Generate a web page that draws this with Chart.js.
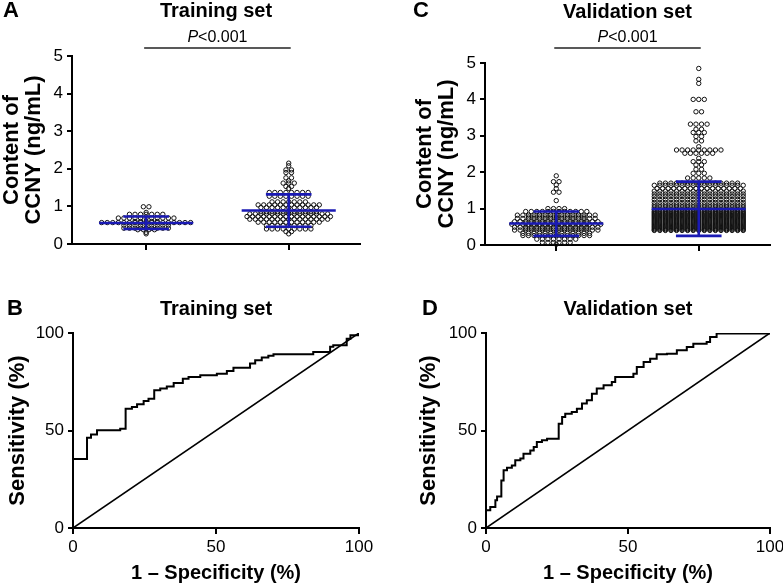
<!DOCTYPE html>
<html>
<head>
<meta charset="utf-8">
<script src="https://cdn.jsdelivr.net/npm/chart.js@4/dist/chart.umd.min.js"></script>
<style>
  html, body { margin: 0; padding: 0; background: #fff; }
  body { position: relative; width: 783px; height: 584px; overflow: hidden; }
  canvas { position: absolute; }
</style>
</head>
<body>
<canvas id="panelA" width="390" height="280" style="left:0;top:0"></canvas>
<canvas id="panelC" width="410" height="280" style="left:390px;top:0"></canvas>
<canvas id="panelB" width="390" height="304" style="left:0;top:280px"></canvas>
<canvas id="panelD" width="410" height="304" style="left:390px;top:280px"></canvas>
<script>
// Dot plot data: value levels (ng/mL) and how many samples sit on each level
const trainLowLevels = [0.99, 0.84, 0.79, 0.69, 0.60, 0.57, 0.50, 0.42, 0.38, 0.31, 0.27];
const trainLowCounts = [2, 1, 7, 11, 5, 17, 9, 9, 4, 1, 1];
const trainHighLevels = [2.15, 2.08, 1.97, 1.90, 1.76, 1.68, 1.62, 1.53, 1.48, 1.37, 1.27, 1.12, 1.04, 0.97, 0.86, 0.80, 0.73, 0.66, 0.58, 0.49, 0.40, 0.33, 0.27];
const trainHighCounts = [1, 1, 2, 2, 2, 1, 3, 2, 1, 8, 8, 7, 12, 11, 11, 15, 16, 15, 12, 9, 9, 2, 1];
const validLowLevels = [1.90, 1.74, 1.65, 1.55, 1.45, 1.22, 1.00, 0.92, 0.82, 0.77, 0.73, 0.64, 0.60, 0.57, 0.49, 0.45, 0.41, 0.32, 0.26, 0.16, 0.07, 0.02];
const validLowCounts = [1, 2, 1, 1, 2, 1, 4, 12, 15, 11, 15, 16, 12, 17, 16, 12, 16, 13, 13, 8, 6, 1];
const validHighLevels = [4.85, 4.55, 4.44, 4.00, 3.66, 3.32, 3.18, 3.09, 2.98, 2.86, 2.70, 2.61, 2.52, 2.38, 2.29, 2.20, 2.08, 1.97, 1.84,
  1.70, 1.64, 1.55, 1.48, 1.40, 1.33, 1.25, 1.17, 1.10, 1.04, 0.98, 0.93, 0.90, 0.87, 0.84, 0.81, 0.78, 0.75, 0.72, 0.69,
  0.66, 0.63, 0.60, 0.57, 0.54, 0.51, 0.48, 0.45, 0.42, 0.40];
const validHighCounts = [1, 1, 1, 3, 2, 4, 2, 3, 2, 2, 1, 9, 6, 1, 3, 2, 2, 3, 5,
  15, 17, 16, 17, 17, 17, 17, 17, 17, 17, 17, 17, 17, 17, 17, 17, 17, 17, 17, 17,
  17, 17, 17, 17, 17, 17, 17, 17, 17, 17];

// Mean and SD bars: [low group, high group]
const trainMean = [0.56, 0.89];
const trainSdLow = [0.40, 0.46];
const trainSdHigh = [0.73, 1.32];
const validMean = [0.59, 0.99];
const validSdLow = [0.25, 0.25];
const validSdHigh = [0.92, 1.74];

// ROC curves (1 - specificity vs sensitivity, %)
const trainFpr = [0, 0, 4.9, 6.3, 8.4, 16.5, 18.4, 20.6, 22.4, 24.7, 26.4, 28.4, 30.5, 32.8, 35.2, 38.4, 40.4, 44.5, 50.3, 53.8,
  56.1, 61.9, 63.7, 66.0, 68.3, 70.1, 84.0, 89.9, 91.0, 95.7, 97.0, 100];
const trainTpr = [0, 35.4, 46.3, 48.0, 50.1, 50.9, 61.2, 62.1, 63.4, 65.1, 66.3, 70.6, 71.5, 72.6, 74.4, 76.6, 77.4, 78.3, 79.1, 80.5,
  82.2, 84.3, 86.0, 87.4, 88.3, 89.1, 90.3, 93.0, 93.7, 97.0, 98.8, 100];
const validFpr = [0, 0, 1.5, 3.3, 3.9, 5.4, 6.2, 7.4, 9.1, 10.3, 12.1, 13.2, 15.6, 16.8, 17.9, 19.7, 21.5, 25.6, 26.8, 27.9,
  30.2, 32.0, 33.8, 35.5, 37.3, 39.0, 41.4, 44.3, 45.5, 51.9, 53.1, 55.5, 57.8, 60.1, 63.7, 67.2, 70.7, 73.0, 77.7, 78.9, 81.2, 100];
const validTpr = [0, 9.1, 10.8, 14.2, 16.2, 24.4, 29.6, 30.9, 32.1, 34.7, 35.6, 38.1, 39.8, 41.5, 44.1, 45.0, 45.8, 53.5, 56.9, 58.6,
  59.5, 61.2, 63.8, 65.5, 68.9, 71.5, 73.2, 74.9, 77.4, 79.1, 82.6, 85.1, 86.8, 89.1, 89.4, 91.1, 92.8, 94.5, 95.4, 98.0, 99.7, 100];
const diagonal = [0, 100];

const groupPos = [1, 2];
const pValueText = '<0.001';
const yTicksDot = [0, 5];
const yTicksRoc = [0, 100];

const FONT = '"Liberation Sans", Arial, Helvetica, sans-serif';
const BLUE = '#1a1ab4';
Chart.defaults.font.family = FONT;
Chart.defaults.color = '#000';

// Layout helpers (x spread of the swarm, bar widths in x units)
const swarmStep = 0.039;
const meanHalf = 0.33;
const capHalf = 0.16;

function swarm(levels, counts, center) {
  const pts = [];
  levels.forEach((v, i) => {
    const n = counts[i];
    for (let k = 0; k < n; k++) {
      pts.push({ x: center + (k - (n - 1) / 2) * swarmStep, y: v });
    }
  });
  return pts;
}

function errorBar(center, mean, lo, hi) {
  return [
    { x: center - meanHalf, y: mean }, { x: center + meanHalf, y: mean }, { x: center, y: null },
    { x: center - capHalf, y: hi }, { x: center + capHalf, y: hi }, { x: center, y: null },
    { x: center - capHalf, y: lo }, { x: center + capHalf, y: lo }, { x: center, y: null },
    { x: center, y: lo }, { x: center, y: hi }
  ];
}

function toPoints(xs, ys) {
  return xs.map((x, i) => ({ x, y: ys[i] }));
}

// Panel letter and the P-value bracket
const panelMarks = {
  id: 'panelMarks',
  afterDraw(chart, args, opts) {
    const ctx = chart.ctx;
    ctx.save();
    ctx.fillStyle = '#000';
    ctx.textBaseline = 'alphabetic';
    ctx.textAlign = 'left';
    ctx.font = 'bold 22px ' + FONT;
    ctx.fillText(opts.letter, opts.letterX, opts.letterY);
    if (opts.pLineY) {
      const xs = chart.scales.x;
      const x1 = xs.getPixelForValue(groupPos[0]);
      const x2 = xs.getPixelForValue(groupPos[1]);
      ctx.strokeStyle = '#222';
      ctx.lineWidth = 1.3;
      ctx.beginPath();
      ctx.moveTo(x1 - 2, opts.pLineY);
      ctx.lineTo(x2 + 2, opts.pLineY);
      ctx.stroke();
      ctx.font = 'italic 16px ' + FONT;
      const w1 = ctx.measureText('P').width;
      ctx.font = '16px ' + FONT;
      const w2 = ctx.measureText(pValueText).width;
      let x = (x1 + x2) / 2 - (w1 + w2) / 2;
      ctx.textBaseline = 'middle';
      ctx.font = 'italic 16px ' + FONT;
      ctx.fillText('P', x, opts.pTextY);
      ctx.font = '16px ' + FONT;
      ctx.fillText(pValueText, x + w1, opts.pTextY);
    }
    ctx.restore();
  }
};

function axisCommon(tickLen) {
  return {
    border: { display: true, color: '#000', width: 2 },
    grid: { display: true, drawOnChartArea: false, drawTicks: true, tickLength: tickLen, color: '#000', lineWidth: 2 },
  };
}

function baseOptions(p) {
  return {
    responsive: false,
    animation: false,
    layout: { padding: { top: 0, left: 0, bottom: 0, right: p.padRight } },
    plugins: {
      legend: { display: false },
      tooltip: { enabled: false },
      title: {
        display: true,
        text: p.title,
        fullSize: false,
        color: '#000',
        font: { size: 20, weight: 'bold', lineHeight: 1.1 },
        padding: p.titlePad
      },
      panelMarks: p.marks
    }
  };
}

function makeDotChart(id, p) {
  const opts = baseOptions(p);
  opts.scales = {
    x: Object.assign(axisCommon(6), {
      type: 'linear', min: p.xMin, max: 2.5,
      afterBuildTicks: s => { s.ticks = groupPos.map(v => ({ value: v })); },
      afterFit: s => { s.height = p.xHeight; },
      ticks: { display: false }
    }),
    y: Object.assign(axisCommon(5), {
      type: 'linear', min: yTicksDot[0], max: yTicksDot[1],
      afterFit: s => { s.width = p.yWidth; },
      ticks: { stepSize: 1, padding: 4, color: '#000', font: { size: 17 } },
      title: { display: true, text: ['Content of', 'CCNY (ng/mL)'], color: '#000',
        font: { size: 22, weight: 'bold', lineHeight: 1.0 }, padding: { top: p.yTitlePad, bottom: 0 } }
    })
  };
  const dots = { pointRadius: 2.2, pointBorderWidth: 1, pointBorderColor: '#111',
    pointBackgroundColor: 'rgba(0,0,0,0)', showLine: false, clip: false, order: 1 };
  const bars = { showLine: true, borderColor: BLUE, borderWidth: 2.6, pointRadius: 0, spanGaps: false, order: 0 };
  return new Chart(document.getElementById(id), {
    type: 'scatter',
    data: {
      datasets: [
        Object.assign({ data: errorBar(groupPos[0], p.mean[0], p.sdLow[0], p.sdHigh[0]) }, bars),
        Object.assign({ data: errorBar(groupPos[1], p.mean[1], p.sdLow[1], p.sdHigh[1]) }, bars),
        Object.assign({ data: swarm(p.lowLevels, p.lowCounts, groupPos[0]) }, dots),
        Object.assign({ data: swarm(p.highLevels, p.highCounts, groupPos[1]) }, dots)
      ]
    },
    options: opts,
    plugins: [panelMarks]
  });
}

function makeRocChart(id, p) {
  const opts = baseOptions(p);
  opts.scales = {
    x: Object.assign(axisCommon(6), {
      type: 'linear', min: yTicksRoc[0], max: yTicksRoc[1],
      afterFit: s => { s.height = 56; },
      ticks: { stepSize: 50, padding: 3, color: '#000', font: { size: 17 } },
      title: { display: true, text: '1 \u2013 Specificity (%)', color: '#000',
        font: { size: 20, weight: 'bold', lineHeight: 1.1 }, padding: { top: 0, bottom: 0 } }
    }),
    y: Object.assign(axisCommon(5), {
      type: 'linear', min: yTicksRoc[0], max: yTicksRoc[1],
      afterFit: s => { s.width = p.yWidth; },
      ticks: { stepSize: 50, padding: 4, color: '#000', font: { size: 17 } },
      title: { display: true, text: 'Sensitivity (%)', color: '#000',
        font: { size: 22, weight: 'bold', lineHeight: 1.0 }, padding: { top: p.yTitlePad, bottom: 0 } }
    })
  };
  return new Chart(document.getElementById(id), {
    type: 'scatter',
    data: {
      datasets: [
        { data: toPoints(p.fpr, p.tpr), showLine: true, stepped: true, borderColor: '#000', borderWidth: 2, pointRadius: 0 },
        { data: toPoints(diagonal, diagonal), showLine: true, borderColor: '#000', borderWidth: 1.6, pointRadius: 0 }
      ]
    },
    options: opts,
    plugins: [panelMarks]
  });
}

makeDotChart('panelA', {
  title: 'Training set', titlePad: { top: 0, bottom: 34 }, padRight: 30,
  xMin: 0.48, xHeight: 36, yWidth: 72, yTitlePad: 1,
  lowLevels: trainLowLevels, lowCounts: trainLowCounts, highLevels: trainHighLevels, highCounts: trainHighCounts,
  mean: trainMean, sdLow: trainSdLow, sdHigh: trainSdHigh,
  marks: { letter: 'A', letterX: 3, letterY: 17, pLineY: 48, pTextY: 37.5 }
});

makeDotChart('panelC', {
  title: 'Validation set', titlePad: { top: 1, bottom: 40 }, padRight: 30,
  xMin: 0.5, xHeight: 35, yWidth: 95, yTitlePad: 24,
  lowLevels: validLowLevels, lowCounts: validLowCounts, highLevels: validHighLevels, highCounts: validHighCounts,
  mean: validMean, sdLow: validSdLow, sdHigh: validSdHigh,
  marks: { letter: 'C', letterX: 23, letterY: 17, pLineY: 48, pTextY: 37.5 }
});

makeRocChart('panelB', {
  title: 'Training set', titlePad: { top: 18, bottom: 13 }, padRight: 31,
  yWidth: 73, yTitlePad: 6.5, fpr: trainFpr, tpr: trainTpr,
  marks: { letter: 'B', letterX: 7, letterY: 35 }
});

makeRocChart('panelD', {
  title: 'Validation set', titlePad: { top: 18, bottom: 13 }, padRight: 30,
  yWidth: 96, yTitlePad: 28, fpr: validFpr, tpr: validTpr,
  marks: { letter: 'D', letterX: 32, letterY: 35 }
});
</script>
</body>
</html>
